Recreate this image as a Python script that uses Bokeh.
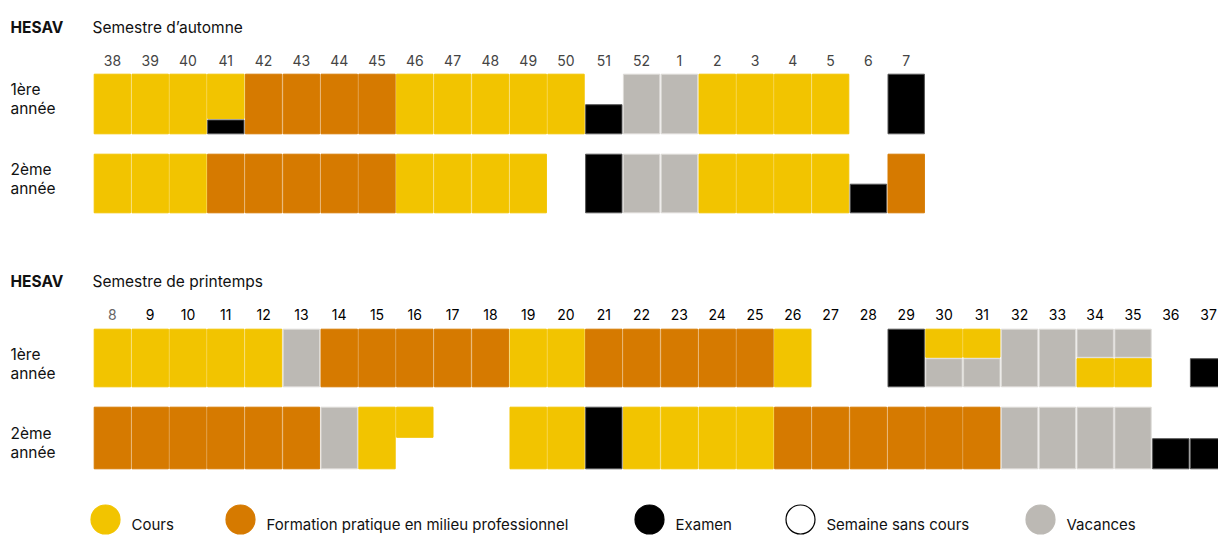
from bokeh.plotting import figure
from bokeh.models import Range1d
from bokeh.core.properties import value
from bokeh.embed import file_html
from bokeh.resources import INLINE

# ---------------- data ----------------
legend_labels = ["Cours", "Formation pratique en milieu professionnel", "Examen",
                 "Semaine sans cours", "Vacances"]
legend_codes = ["C", "F", "E", "-", "V"]
fill_colors = {"C": "#F2C400", "F": "#D67A00", "E": "#000000", "V": "#BCB9B4", "-": "#FFFFFF"}
line_colors = {"C": None, "F": None, "E": "#555555", "V": "#DDDBD7", "-": "#000000"}

row_labels_1 = ["1ère", "année"]
row_labels_2 = ["2ème", "année"]

autumn_title = "Semestre d\u2019automne"
autumn_weeks = [38, 39, 40, 41, 42, 43, 44, 45, 46, 47, 48, 49, 50, 51, 52, 1, 2, 3, 4, 5, 6, 7]
# one letter = full week, four letters = quarters from top to bottom, "-" = no class
autumn_year1 = ["C", "C", "C", "CCCE", "F", "F", "F", "F", "C", "C", "C", "C", "C", "--EE",
                "V", "V", "C", "C", "C", "C", "-", "E"]
autumn_year2 = ["C", "C", "C", "F", "F", "F", "F", "F", "C", "C", "C", "C", "-", "E",
                "V", "V", "C", "C", "C", "C", "--EE", "F"]

spring_title = "Semestre de printemps"
spring_weeks = [8, 9, 10, 11, 12, 13, 14, 15, 16, 17, 18, 19, 20, 21, 22, 23, 24, 25, 26,
                27, 28, 29, 30, 31, 32, 33, 34, 35, 36, 37]
spring_year1 = ["C", "C", "C", "C", "C", "V", "F", "F", "F", "F", "F", "C", "C", "F", "F",
                "F", "F", "F", "C", "-", "-", "E", "CCVV", "CCVV", "V", "V", "VVCC", "VVCC",
                "-", "--EE"]
spring_year2 = ["F", "F", "F", "F", "F", "F", "V", "C", "CC--", "-", "-", "C", "C", "E", "C",
                "C", "C", "C", "F", "F", "F", "F", "F", "F", "V", "V", "V", "V", "--EE", "--EE"]

# ---------------- layout ----------------
PW, PH = 1218, 536
X0 = 93.0      # px of first column left edge
W = 37.8       # px per week column
GAP = 0.7      # px inset
FONT = value("Inter")


def xd(px):
    return (px - X0) / W


p = figure(width=PW, height=PH, x_range=Range1d(xd(0), xd(PW)), y_range=Range1d(PH, 0),
           output_backend="svg", toolbar_location=None, min_border=0,
           x_axis_type=None, y_axis_type=None)
p.grid.visible = False
p.outline_line_color = None
p.background_fill_color = "#FFFFFF"

semesters = [
    dict(title=autumn_title, weeks=autumn_weeks, rows=[autumn_year1, autumn_year2],
         head_y=27, week_y=60, row_tops=[73, 153], row_h=[61, 60],
         label_y=[(89, 108), (169, 188)], first_gray=False),
    dict(title=spring_title, weeks=spring_weeks, rows=[spring_year1, spring_year2],
         head_y=281, week_y=314, row_tops=[328, 406], row_h=[59, 63],
         label_y=[(354, 373), (433, 452)], first_gray=True),
]

L, R, T, B, FC, LC = [], [], [], [], [], []
for sem in semesters:
    # headers
    p.text(x=[xd(10)], y=[sem["head_y"]], text=["HESAV"], text_font=FONT,
           text_font_size="15.5px", text_font_style="bold", text_color="#111111",
           text_baseline="alphabetic", text_align="left")
    p.text(x=[xd(92)], y=[sem["head_y"]], text=[sem["title"]], text_font=FONT,
           text_font_size="15.5px", text_color="#111111",
           text_baseline="alphabetic", text_align="left")
    # week labels
    n = len(sem["weeks"])
    if sem["first_gray"]:
        cols = ["#666666"] + ["#000000"] * (n - 1)
    else:
        cols = ["#444444"] * n
    p.text(x=[i + 0.5 for i in range(n)], y=[sem["week_y"]] * n,
           text=[str(w) for w in sem["weeks"]], text_font=FONT, text_font_size="14px",
           text_color=cols, text_baseline="alphabetic", text_align="center")
    # rows
    for r, (codes, top, h, ly) in enumerate(zip(sem["rows"], sem["row_tops"],
                                                sem["row_h"], sem["label_y"])):
        labels = row_labels_1 if r == 0 else row_labels_2
        p.text(x=[xd(10)] * 2, y=list(ly), text=labels, text_font=FONT,
               text_font_size="15.5px", text_color="#111111",
               text_baseline="alphabetic", text_align="left")
        for i, c in enumerate(codes):
            q = list(c * 4) if len(c) == 1 else list(c)
            k = 0
            while k < 4:
                j = k
                while j < 4 and q[j] == q[k]:
                    j += 1
                if q[k] != "-":
                    L.append(i + GAP / W)
                    R.append(i + 1 - GAP / W)
                    T.append(top + k * h / 4 + GAP)
                    B.append(top + j * h / 4 - GAP)
                    FC.append(fill_colors[q[k]])
                    LC.append(line_colors[q[k]] or fill_colors[q[k]])
                k = j

p.quad(left=L, right=R, top=T, bottom=B, fill_color=FC, line_color=LC, line_width=1)

# legend
leg_circle_px = [105, 240, 649, 800, 1040]
leg_y = 519
p.scatter(x=[xd(v) for v in leg_circle_px], y=[leg_y] * 5, size=29, marker="circle",
          fill_color=[fill_colors[c] for c in legend_codes],
          line_color=[fill_colors[c] if c != "-" else "#000000" for c in legend_codes],
          line_width=1.2)
p.text(x=[xd(v + 26) for v in leg_circle_px], y=[leg_y + 5] * 5, text=legend_labels,
       text_font=FONT, text_font_size="15px", text_color="#111111",
       text_baseline="alphabetic", text_align="left")

open("out.html", "w").write(file_html(p, INLINE))
